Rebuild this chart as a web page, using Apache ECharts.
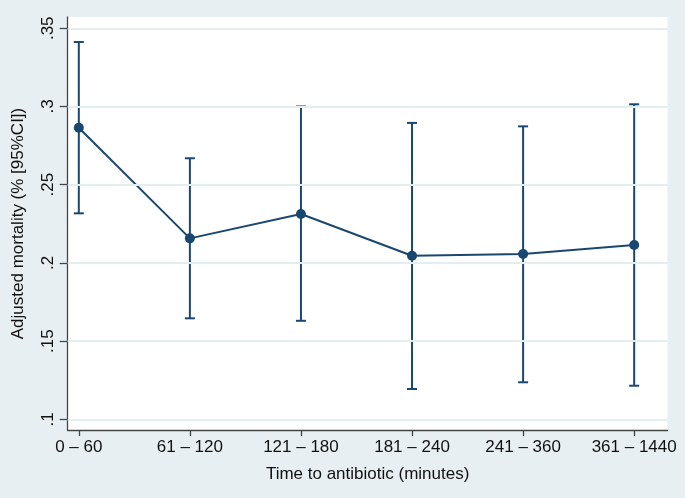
<!DOCTYPE html>
<html>
<head>
<meta charset="utf-8">
<script src="https://cdn.jsdelivr.net/npm/echarts@6/dist/echarts.min.js"></script>
<style>
html,body{margin:0;padding:0;background:#e8eff2;}
#c{width:685px;height:498px;}
</style>
</head>
<body>
<div id="c"></div>
<script>
const categories = ['0 – 60', '61 – 120', '121 – 180', '181 – 240', '241 – 360', '361 – 1440'];
const mortality = [0.2864, 0.2157, 0.2313, 0.2046, 0.2057, 0.2114];
const ciLow = [0.2317, 0.1646, 0.1630, 0.1194, 0.1237, 0.1215];
const ciHigh = [0.3412, 0.2669, 0.3000, 0.2895, 0.2873, 0.3014];
const yTicks = [0.1, 0.15, 0.2, 0.25, 0.3, 0.35];
const yTickLabels = ['.1', '.15', '.2', '.25', '.3', '.35'];

const xPos = categories.map((c, i) => i + 1);
const navy = '#1a476f';
const font = 'Liberation Sans, Arial, sans-serif';

const chart = echarts.init(document.getElementById('c'), null, {renderer: 'canvas'});
chart.setOption({
  backgroundColor: '#e8eff2',
  animation: false,
  grid: {left: 67.7, right: 17.5, top: 17, bottom: 68, show: true, backgroundColor: '#ffffff', borderWidth: 0},
  xAxis: {
    type: 'value', min: 0.9, max: 6.3,
    name: 'Time to antibiotic (minutes)', nameLocation: 'middle', nameGap: 36,
    nameTextStyle: {fontFamily: font, fontSize: 17, color: '#111'},
    axisLine: {show: true, lineStyle: {color: '#444', width: 1.3}},
    axisTick: {show: true, length: 6, customValues: xPos, lineStyle: {color: '#444', width: 1.3}},
    axisLabel: {customValues: xPos, margin: 9, fontFamily: font, fontSize: 17, color: '#111',
      formatter: v => categories[Math.round(v) - 1] || ''},
    splitLine: {show: false}
  },
  yAxis: {
    type: 'value', min: 0.0932, max: 0.3572,
    name: 'Adjusted mortality (% [95%CI])', nameLocation: 'middle', nameGap: 41, nameRotate: 90,
    nameTextStyle: {fontFamily: font, fontSize: 17, color: '#111'},
    axisLine: {show: true, lineStyle: {color: '#444', width: 1.3}},
    axisTick: {show: true, length: 8, customValues: yTicks, lineStyle: {color: '#444', width: 1.3}},
    axisLabel: {customValues: yTicks, rotate: 90, margin: 11, fontFamily: font, fontSize: 17, color: '#111',
      formatter: v => { const i = yTicks.findIndex(t => Math.abs(t - v) < 1e-6); return i >= 0 ? yTickLabels[i] : ''; }},
    splitLine: {show: false}
  },
  series: [
    {
      type: 'line', silent: true,
      data: [],
      markLine: {
        silent: true, symbol: 'none', label: {show: false},
        lineStyle: {color: '#e3eef0', width: 2, type: 'solid'},
        data: yTicks.map(t => ({yAxis: t}))
      }
    },
    {
      type: 'custom',
      data: xPos.map((x, i) => [x, ciLow[i], ciHigh[i]]),
      renderItem: (params, api) => {
        const x = api.value(0);
        const lo = api.coord([x, api.value(1)]);
        const hi = api.coord([x, api.value(2)]);
        const hw = 5;
        const st = {stroke: navy, lineWidth: 2};
        return {type: 'group', children: [
          {type: 'line', shape: {x1: lo[0], y1: lo[1], x2: hi[0], y2: hi[1]}, style: st},
          {type: 'line', shape: {x1: lo[0]-hw, y1: lo[1], x2: lo[0]+hw, y2: lo[1]}, style: st},
          {type: 'line', shape: {x1: hi[0]-hw, y1: hi[1], x2: hi[0]+hw, y2: hi[1]}, style: st}
        ]};
      },
      z: 3
    },
    {
      type: 'line',
      data: xPos.map((x, i) => [x, mortality[i]]),
      symbol: 'circle', symbolSize: 10,
      lineStyle: {color: navy, width: 2},
      itemStyle: {color: navy},
      z: 4
    }
  ]
});
</script>
</body>
</html>
